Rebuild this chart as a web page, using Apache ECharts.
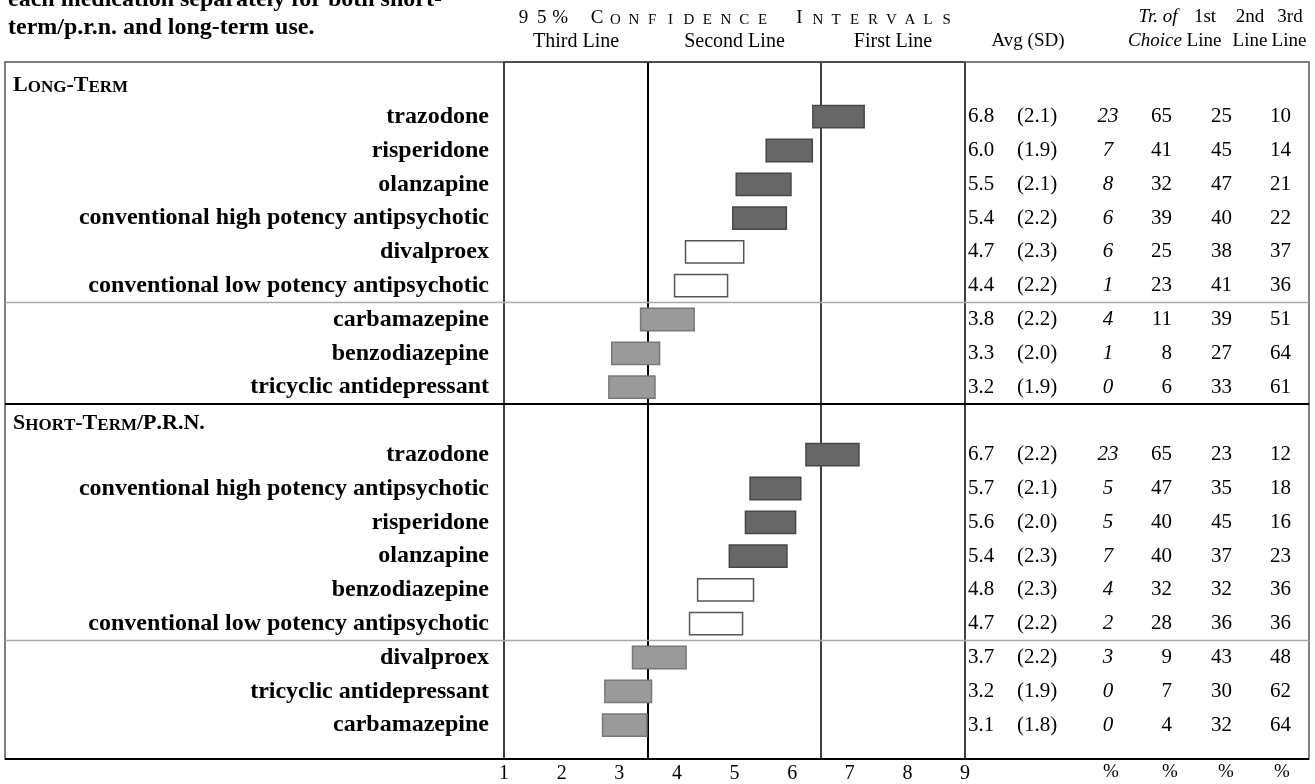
<!DOCTYPE html>
<html>
<head>
<meta charset="utf-8">
<title>Medication ratings</title>
<script src="https://cdn.jsdelivr.net/npm/echarts@6.0.0/dist/echarts.min.js"></script>
<style>
  html, body { margin: 0; padding: 0; background: #fff; }
  #chart { width: 1315px; height: 784px; }
</style>
</head>
<body>
<div id="chart"></div>
<script>
// long-term use, rows in the order shown
var longNames = ['trazodone', 'risperidone', 'olanzapine', 'conventional high potency antipsychotic',
    'divalproex', 'conventional low potency antipsychotic', 'carbamazepine', 'benzodiazepine',
    'tricyclic antidepressant'];
var longLow    = [6.36, 5.55, 5.03, 4.97, 4.15, 3.96, 3.37, 2.87, 2.82];
var longHigh   = [7.25, 6.35, 5.98, 5.90, 5.16, 4.88, 4.30, 3.70, 3.62];
var longAvg    = ['6.8', '6.0', '5.5', '5.4', '4.7', '4.4', '3.8', '3.3', '3.2'];
var longSd     = ['2.1', '1.9', '2.1', '2.2', '2.3', '2.2', '2.2', '2.0', '1.9'];
var longChoice = [23, 7, 8, 6, 6, 1, 4, 1, 0];
var longFirst  = [65, 41, 32, 39, 25, 23, 11, 8, 6];
var longSecond = [25, 45, 47, 40, 38, 41, 39, 27, 33];
var longThird  = [10, 14, 21, 22, 37, 36, 51, 64, 61];
var longTier   = ['high', 'high', 'high', 'high', 'mid', 'mid', 'low', 'low', 'low'];

// short-term / p.r.n. use
var shortNames = ['trazodone', 'conventional high potency antipsychotic', 'risperidone', 'olanzapine',
    'benzodiazepine', 'conventional low potency antipsychotic', 'divalproex', 'tricyclic antidepressant',
    'carbamazepine'];
var shortLow    = [6.24, 5.27, 5.19, 4.91, 4.36, 4.22, 3.23, 2.75, 2.71];
var shortHigh   = [7.16, 6.15, 6.06, 5.91, 5.33, 5.14, 4.16, 3.56, 3.48];
var shortAvg    = ['6.7', '5.7', '5.6', '5.4', '4.8', '4.7', '3.7', '3.2', '3.1'];
var shortSd     = ['2.2', '2.1', '2.0', '2.3', '2.3', '2.2', '2.2', '1.9', '1.8'];
var shortChoice = [23, 5, 5, 7, 4, 2, 3, 0, 0];
var shortFirst  = [65, 47, 40, 40, 32, 28, 9, 7, 4];
var shortSecond = [23, 35, 45, 37, 32, 36, 43, 30, 32];
var shortThird  = [12, 18, 16, 23, 36, 36, 48, 62, 64];
var shortTier   = ['high', 'high', 'high', 'high', 'mid', 'mid', 'low', 'low', 'low'];

var sectionNames = ['Long-Term', 'Short-Term/P.R.N.'];
var zoneNames = ['Third Line', 'Second Line', 'First Line'];
var zoneEdges = [1, 3.5, 6.5, 9];

var serif = '"Liberation Serif", "DejaVu Serif", serif';

var tierStyle = {
    high: {fill: '#676767', stroke: '#474747'},
    mid:  {fill: '#ffffff', stroke: '#555555'},
    low:  {fill: '#9a9a9a', stroke: '#787878'}
};

// one category row per section header and per medication
var rowName = [], rowStats = [], rowTier = [], sectionRows = [];
var barData = [], barTier = [];

function addSection(names, low, high, avg, sd, choice, first, second, third, tier) {
    sectionRows.push(rowName.length);
    rowName.push(null);
    rowStats.push(null);
    rowTier.push(null);
    for (var i = 0; i < names.length; i++) {
        var r = rowName.length;
        rowName.push(names[i]);
        rowTier.push(tier[i]);
        rowStats.push({avg: avg[i], sd: sd[i], choice: choice[i], first: first[i], second: second[i], third: third[i]});
        barData.push([low[i], high[i], r]);
        barTier.push(tier[i]);
    }
}
addSection(longNames, longLow, longHigh, longAvg, longSd, longChoice, longFirst, longSecond, longThird, longTier);
addSection(shortNames, shortLow, shortHigh, shortAvg, shortSd, shortChoice, shortFirst, shortSecond, shortThird, shortTier);

var rowKeys = rowName.map(function (n, i) { return 'r' + i; });

// small caps as rich text
var capsRich = {
    cap: {fontFamily: serif, fontSize: 22, fontWeight: 'bold', color: '#000', verticalAlign: 'bottom'},
    sc:  {fontFamily: serif, fontSize: 17, fontWeight: 'bold', color: '#000', verticalAlign: 'bottom'}
};
function smallCaps(str) {
    var out = '';
    for (var i = 0; i < str.length; i++) {
        var c = str[i];
        var small = c !== c.toUpperCase();
        out += '{' + (small ? 'sc' : 'cap') + '|' + c.toUpperCase() + '}';
    }
    return out;
}

// letter-spaced small caps for the top heading
var ciRich = {
    big: {fontFamily: serif, fontSize: 19, color: '#000', width: 18.4, align: 'center', verticalAlign: 'bottom'},
    sm:  {fontFamily: serif, fontSize: 15, color: '#000', width: 18.4, align: 'center', verticalAlign: 'bottom'},
    gap: {fontFamily: serif, fontSize: 15, color: '#000', width: 18.4, align: 'center', verticalAlign: 'bottom'}
};
function spacedCaps(str) {
    var out = '';
    for (var i = 0; i < str.length; i++) {
        var c = str[i];
        if (c === ' ') { out += '{gap|\u00a0}'; continue; }
        var first = i === 0 || str[i - 1] === ' ';
        var isLetter = /[A-Za-z]/.test(c);
        out += '{' + (first || !isLetter ? 'big' : 'sm') + '|' + c.toUpperCase() + '}';
    }
    return out;
}

var tableRich = {
    avg: {fontFamily: serif, fontSize: 21, color: '#000', width: 49, align: 'left'},
    sd:  {fontFamily: serif, fontSize: 21, color: '#000', width: 66, align: 'left'},
    ch:  {fontFamily: serif, fontSize: 21, color: '#000', fontStyle: 'italic', width: 50, align: 'center'},
    p1:  {fontFamily: serif, fontSize: 21, color: '#000', width: 39, align: 'right'},
    p2:  {fontFamily: serif, fontSize: 21, color: '#000', width: 60, align: 'right'},
    p3:  {fontFamily: serif, fontSize: 21, color: '#000', width: 59, align: 'right'}
};

function headText(id, text, x, y, italic) {
    return {
        id: id, type: 'text', x: x, y: y, z: 10,
        style: {text: text, fontFamily: serif, fontSize: 19, fontStyle: italic ? 'italic' : 'normal',
            fill: '#000', align: 'center', verticalAlign: 'middle'}
    };
}

var graphics = [
    {
        id: 'title', type: 'text', x: 8, y: -14,
        style: {text: 'each medication separately for both short-\nterm/p.r.n. and long-term use.',
            fontFamily: serif, fontSize: 24, fontWeight: 'bold', fill: '#000', lineHeight: 28,
            align: 'left', verticalAlign: 'top'}
    },
    {
        id: 'ciTitle', type: 'text', x: 735, y: 18,
        style: {text: spacedCaps('95% Confidence Intervals'), rich: ciRich, align: 'center', verticalAlign: 'middle'}
    },
    headText('hAvg', 'Avg (SD)', 1028, 41),
    headText('hTr1', 'Tr. of', 1158, 17, true),
    headText('hTr2', 'Choice', 1155, 41, true),
    headText('h1a', '1st', 1205, 17),
    headText('h1b', 'Line', 1204, 41),
    headText('h2a', '2nd', 1250, 17),
    headText('h2b', 'Line', 1250, 41),
    headText('h3a', '3rd', 1290, 17),
    headText('h3b', 'Line', 1289, 41),
    headText('pc0', '%', 1111, 772),
    headText('pc1', '%', 1170, 772),
    headText('pc2', '%', 1226, 772),
    headText('pc3', '%', 1282, 772),
    {
        id: 'frame', type: 'rect', z: 10,
        shape: {x: 5, y: 62, width: 1304, height: 697},
        style: {fill: null, stroke: '#555', lineWidth: 1.5}
    },
    {
        id: 'bottomRule', type: 'line', z: 11,
        shape: {x1: 5, y1: 759, x2: 1309, y2: 759},
        style: {stroke: '#000', lineWidth: 2}
    }
];

var zoneAreas = [];
for (var z = 0; z < zoneNames.length; z++) {
    zoneAreas.push([{xAxis: zoneEdges[z], name: zoneNames[z]}, {xAxis: zoneEdges[z + 1]}]);
}

var chart = echarts.init(document.getElementById('chart'));

var option = {
    animation: false,
    backgroundColor: '#fff',
    grid: [
        // frame: full height of the table body
        {left: 504, right: 350, top: 62, bottom: 25, show: true, borderColor: '#000', borderWidth: 1.5,
            backgroundColor: 'transparent', outerBoundsMode: 'none'},
        // rows
        {left: 504, right: 350, top: 66, bottom: 42, outerBoundsMode: 'none'}
    ],
    xAxis: [
        {
            gridIndex: 0, type: 'value', min: 1, max: 9, interval: 1,
            axisLine: {show: false}, axisTick: {show: false}, splitLine: {show: false},
            axisLabel: {color: '#000', fontFamily: serif, fontSize: 20, margin: 5, showMinLabel: true, showMaxLabel: true}
        },
        {gridIndex: 1, type: 'value', min: 1, max: 9, show: false}
    ],
    yAxis: [
        {gridIndex: 0, type: 'value', min: 0, max: 1, show: false},
        {
            gridIndex: 1, type: 'category', data: rowKeys, inverse: true,
            axisLine: {show: false}, axisTick: {show: false}, splitLine: {show: false},
            axisLabel: {
                interval: 0, margin: 15,
                formatter: function (v, i) { return rowName[i] ? '{n|' + rowName[i] + '}' : ''; },
                rich: {n: {fontFamily: serif, fontSize: 24, fontWeight: 'bold', color: '#000'}}
            }
        },
        {
            gridIndex: 1, type: 'category', data: rowKeys, inverse: true, position: 'right',
            axisLine: {show: false}, axisTick: {show: false}, splitLine: {show: false},
            axisLabel: {
                interval: 0, margin: 3,
                formatter: function (v, i) {
                    var s = rowStats[i];
                    if (!s) return '';
                    return '{avg|' + s.avg + '}{sd|(' + s.sd + ')}{ch|' + s.choice + '}{p1|' + s.first +
                        '}{p2|' + s.second + '}{p3|' + s.third + '}';
                },
                rich: tableRich
            }
        }
    ],
    graphic: {elements: graphics},
    series: [
        {
            type: 'line', xAxisIndex: 0, yAxisIndex: 0, data: [], silent: true, z: 2,
            markLine: {
                silent: true, symbol: ['none', 'none'], label: {show: false},
                lineStyle: {color: '#000', type: 'solid'},
                data: [{xAxis: zoneEdges[1], lineStyle: {width: 2}}, {xAxis: zoneEdges[2], lineStyle: {width: 1.5}}]
            },
            markArea: {
                silent: true,
                itemStyle: {color: 'rgba(0,0,0,0)'},
                label: {show: true, position: 'top', distance: 10, color: '#000', fontFamily: serif, fontSize: 20},
                data: zoneAreas
            }
        },
        {
            type: 'custom', xAxisIndex: 1, yAxisIndex: 1, z: 5,
            encode: {x: [0, 1], y: 2},
            data: barData,
            renderItem: function (params, api) {
                var row = api.value(2);
                var a = api.coord([api.value(0), row]);
                var b = api.coord([api.value(1), row]);
                var h = api.size([0, 1])[1] * 0.66;
                var st = tierStyle[barTier[params.dataIndex]];
                return {
                    type: 'rect',
                    shape: {x: a[0], y: a[1] - h / 2, width: b[0] - a[0], height: h},
                    style: {fill: st.fill, stroke: st.stroke, lineWidth: 1.5}
                };
            }
        }
    ]
};

chart.setOption(option);

// section headings and rules, placed on the row axis
var extra = [];
function rowY(r) { return chart.convertToPixel({yAxisIndex: 1}, 'r' + r); }
sectionRows.forEach(function (r, k) {
    extra.push({
        id: 'section' + k, type: 'text', x: 13, y: rowY(r) + 2, z: 10,
        style: {text: smallCaps(sectionNames[k]), rich: capsRich, align: 'left', verticalAlign: 'middle'}
    });
    if (r > 0) {
        var yb = (rowY(r - 1) + rowY(r)) / 2;
        extra.push({id: 'sectionRule' + k, type: 'line', z: 11,
            shape: {x1: 5, y1: yb, x2: 1309, y2: yb}, style: {stroke: '#000', lineWidth: 2}});
    }
});
for (var r = 1; r < rowName.length; r++) {
    if (rowTier[r] === 'low' && rowTier[r - 1] && rowTier[r - 1] !== 'low') {
        var yg = (rowY(r - 1) + rowY(r)) / 2;
        extra.push({id: 'tierRule' + r, type: 'line', z: 11,
            shape: {x1: 5, y1: yg, x2: 1309, y2: yg}, style: {stroke: '#aaa', lineWidth: 1.5}});
    }
}
chart.setOption({graphic: {elements: extra}});
</script>
</body>
</html>
